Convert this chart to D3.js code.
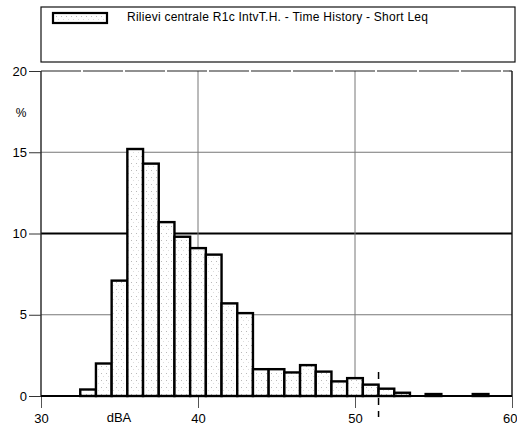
<!DOCTYPE html>
<html>
<head>
<meta charset="utf-8">
<script src="https://cdn.jsdelivr.net/npm/d3@7"></script>
<style>
  html, body { margin: 0; padding: 0; background: #fff; }
  svg { display: block; font-family: "Liberation Sans", Arial, sans-serif; }
</style>
</head>
<body>
<svg id="chart" width="517" height="427"></svg>
<script>
// Short Leq distribution: percentage of samples per 1 dBA class
const binCenters = [33, 34, 35, 36, 37, 38, 39, 40, 41, 42, 43, 44, 45, 46, 47, 48, 49, 50, 51, 52, 53, 54, 55, 56, 57, 58, 59];
const percents   = [0.4, 2.0, 7.1, 15.2, 14.3, 10.7, 9.8, 9.1, 8.7, 5.7, 5.1, 1.65, 1.65, 1.45, 1.9, 1.5, 0.9, 1.1, 0.7, 0.45, 0.2, 0.0, 0.12, 0.0, 0.0, 0.12, 0.0];
const xTicks = [30, 40, 50, 60];
const yTicks = [0, 5, 10, 15, 20];
const xGrid = [40, 50];
const yGrid = [5, 10, 15];
const markerLevel = 51.5;
const legendLabel = "Rilievi centrale R1c IntvT.H. - Time History - Short Leq";
const xUnit = "dBA";
const yUnit = "%";

const svg = d3.select("#chart");
const x = d3.scaleLinear().domain([30, 60]).range([41, 512]);
const y = d3.scaleLinear().domain([0, 20]).range([396, 71]);

// stipple fill used by the bars and the legend swatch
const defs = svg.append("defs");
const pat = defs.append("pattern")
  .attr("id", "stipple").attr("patternUnits", "userSpaceOnUse")
  .attr("width", 5).attr("height", 7);
pat.append("rect").attr("width", 5).attr("height", 7).attr("fill", "#fff");
pat.append("rect").attr("x", 1).attr("y", 2).attr("width", 1).attr("height", 1).attr("fill", "#bbb");
pat.append("rect").attr("x", 3).attr("y", 5).attr("width", 1).attr("height", 1).attr("fill", "#ddd");

// legend box
svg.append("rect").attr("x", 41).attr("y", 7).attr("width", 474).attr("height", 55)
  .attr("fill", "none").attr("stroke", "#111").attr("stroke-width", 1.2);
svg.append("rect").attr("x", 53).attr("y", 13).attr("width", 54).attr("height", 10)
  .attr("fill", "url(#stipple)").attr("stroke", "#000").attr("stroke-width", 2.2);
svg.append("text").attr("x", 127).attr("y", 21).attr("font-size", 12)
  .attr("textLength", 301).attr("lengthAdjust", "spacing")
  .attr("fill", "#000").text(legendLabel);

// grid
svg.append("g").selectAll("line").data(yGrid).join("line")
  .attr("x1", x(30)).attr("x2", x(60))
  .attr("y1", d => y(d)).attr("y2", d => y(d))
  .attr("stroke", d => d === 10 ? "#000" : "#777")
  .attr("stroke-width", d => d === 10 ? 2 : 1);
svg.append("g").selectAll("line").data(xGrid).join("line")
  .attr("x1", d => x(d)).attr("x2", d => x(d))
  .attr("y1", y(20)).attr("y2", y(0))
  .attr("stroke", "#777").attr("stroke-width", 1);

// frame
svg.append("line").attr("x1", x(30)).attr("x2", x(60)).attr("y1", y(20)).attr("y2", y(20))
  .attr("stroke", "#222").attr("stroke-width", 1.2).attr("stroke-dasharray", "40,2");
svg.append("line").attr("x1", x(30)).attr("x2", x(30)).attr("y1", y(20)).attr("y2", y(0))
  .attr("stroke", "#222").attr("stroke-width", 1.4);
svg.append("line").attr("x1", x(60)).attr("x2", x(60)).attr("y1", y(20)).attr("y2", y(0))
  .attr("stroke", "#111").attr("stroke-width", 1.4);

// axes
const xAxis = svg.append("g").attr("transform", `translate(0,${y(0)})`)
  .call(d3.axisBottom(x).tickValues(xTicks).tickSize(12).tickPadding(6).tickFormat(d3.format("d")));
xAxis.select(".domain").remove();
xAxis.selectAll("line").attr("stroke", "#555");
xAxis.selectAll("text").attr("font-size", 13).attr("fill", "#000")
  .attr("font-family", "Liberation Sans, Arial, sans-serif");
// keep the last label inside the page edge
xAxis.selectAll(".tick").filter(d => d === 60).select("text")
  .attr("text-anchor", "end").attr("x", 517 - x(60));

const yAxis = svg.append("g").attr("transform", `translate(${x(30)},0)`)
  .call(d3.axisLeft(y).tickValues(yTicks).tickSize(12).tickPadding(2).tickFormat(d3.format("d")));
yAxis.select(".domain").remove();
yAxis.selectAll("line").attr("stroke", "#333");
yAxis.selectAll("text").attr("font-size", 13).attr("fill", "#000")
  .attr("font-family", "Liberation Sans, Arial, sans-serif");

svg.append("text").attr("x", 119).attr("y", 422).attr("text-anchor", "middle")
  .attr("font-size", 13).text(xUnit);
svg.append("text").attr("x", 21).attr("y", 117).attr("text-anchor", "middle")
  .attr("font-size", 12).text(yUnit);

// histogram baseline
svg.append("line").attr("x1", x(30)).attr("x2", x(60)).attr("y1", y(0)).attr("y2", y(0))
  .attr("stroke", "#000").attr("stroke-width", 2);

// bars
svg.append("g").selectAll("rect")
  .data(binCenters.map((c, i) => ({c, v: percents[i]})).filter(d => d.v > 0))
  .join("rect")
  .attr("x", d => x(d.c - 0.5))
  .attr("width", d => x(d.c + 0.5) - x(d.c - 0.5))
  .attr("y", d => y(d.v))
  .attr("height", d => y(0) - y(d.v))
  .attr("fill", "url(#stipple)")
  .attr("stroke", "#000").attr("stroke-width", 2.4);

// level marker
svg.append("line").attr("x1", x(markerLevel)).attr("x2", x(markerLevel))
  .attr("y1", 372).attr("y2", 417)
  .attr("stroke", "#000").attr("stroke-width", 1.5).attr("stroke-dasharray", "7,6");
</script>
</body>
</html>
